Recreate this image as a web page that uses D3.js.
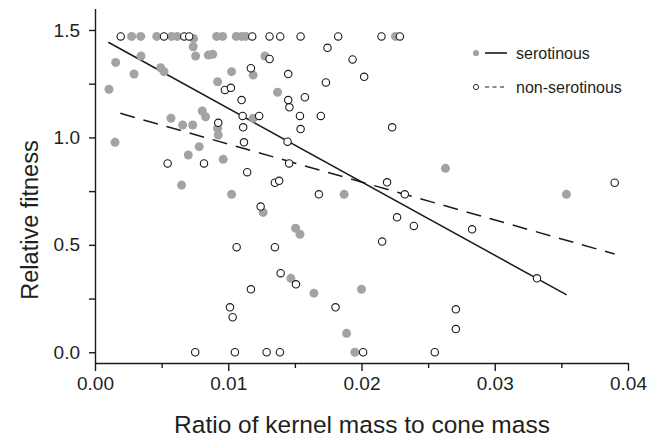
<!DOCTYPE html>
<html lang="en">
<head>
    <meta charset="UTF-8">
    <title>Relative fitness</title>
    <script src="https://cdn.jsdelivr.net/npm/d3@7"></script>
    <style>
        html, body {
            margin: 0;
            padding: 0;
            background: #fff;
            overflow: hidden;
        }
        text {
            font-family: "Liberation Sans", Arial, Helvetica, sans-serif;
            fill: #231f20;
        }
    </style>
</head>
<body>
</body>
<script>
    let width = 649;
    let height = 446;

    // serotinous (grey filled)
    let seroX = [0.00275, 0.00343, 0.00463, 0.00575, 0.00617, 0.0074, 0.00913, 0.00958, 0.0106, 0.0110, 0.0113, 0.02255,
        0.00155, 0.00105, 0.0015, 0.00345, 0.00293, 0.00493, 0.00518, 0.00737, 0.00755, 0.0085, 0.00883, 0.01025,
        0.0092, 0.01187, 0.01275, 0.0137, 0.01187, 0.00805, 0.0083, 0.0057, 0.00658, 0.00733, 0.0092, 0.00925,
        0.00782, 0.007, 0.00962, 0.0065, 0.01025, 0.01262, 0.0187, 0.0263, 0.01505, 0.01538, 0.0147, 0.01643,
        0.0200, 0.01888, 0.0195, 0.03538];
    let seroY = [1.47, 1.47, 1.47, 1.47, 1.47, 1.46, 1.47, 1.47, 1.47, 1.47, 1.47, 1.47,
        1.349, 1.224, 0.977, 1.379, 1.295, 1.324, 1.306, 1.422, 1.379, 1.383, 1.387, 1.306,
        1.259, 1.290, 1.379, 1.210, 1.089, 1.123, 1.096, 1.089, 1.058, 1.058, 1.042, 1.011,
        0.957, 0.918, 0.898, 0.778, 0.735, 0.651, 0.735, 0.856, 0.577, 0.549, 0.344, 0.275,
        0.293, 0.088, 0.0, 0.735];

    // non-serotinous (open)
    let nonSeroX = [0.00193, 0.00518, 0.0067, 0.00707, 0.0118, 0.0131, 0.0139, 0.01543, 0.01825, 0.0215, 0.02288,
        0.01745, 0.01933, 0.0131, 0.0117, 0.0145, 0.01733, 0.0202, 0.00975, 0.0102, 0.0110, 0.0145,
        0.01459, 0.01575, 0.01108, 0.01232, 0.01538, 0.01695, 0.01112, 0.01543, 0.00925, 0.0223, 0.01445,
        0.01118, 0.00545, 0.00818, 0.01142, 0.0135, 0.01382, 0.01457, 0.01243, 0.01063, 0.0135, 0.0168,
        0.02192, 0.02325, 0.02267, 0.02393, 0.0283, 0.02155, 0.01393, 0.01508, 0.0117, 0.01013, 0.01033,
        0.01805, 0.02708, 0.02708, 0.039, 0.03317, 0.00752, 0.0105, 0.01288, 0.01388, 0.02012, 0.0255];
    let nonSeroY = [1.47, 1.47, 1.47, 1.47, 1.47, 1.47, 1.47, 1.47, 1.47, 1.47, 1.47,
        1.417, 1.363, 1.365, 1.322, 1.295, 1.256, 1.282, 1.221, 1.231, 1.174, 1.174,
        1.140, 1.187, 1.100, 1.100, 1.100, 1.100, 1.047, 1.039, 1.068, 1.047, 0.980,
        0.977, 0.879, 0.879, 0.838, 0.789, 0.798, 0.879, 0.678, 0.489, 0.489, 0.735,
        0.791, 0.735, 0.628, 0.588, 0.572, 0.515, 0.368, 0.316, 0.293, 0.209, 0.163,
        0.209, 0.200, 0.108, 0.789, 0.344, 0.0, 0.0, 0.0, 0.0, 0.0, 0.0];

    // fitted lines, [x, y] end points
    let seroFit = [[0.001, 1.443], [0.0354, 0.267]];
    let nonSeroFit = [[0.0019, 1.112], [0.039, 0.457]];

    let xTicks = [0, 0.01, 0.02, 0.03, 0.04];
    let xMinorTicks = [0.005, 0.015, 0.025, 0.035];
    let yTicks = [0, 0.5, 1.0, 1.5];
    let yMinorTicks = [0.25, 0.75, 1.25];

    let legendLabels = ['serotinous', 'non-serotinous'];

    let grey = '#a3a3a3';
    let ink = '#1a1a1a';

    let x = d3.scaleLinear().domain([0, 0.04]).range([95, 628]);
    let y = d3.scaleLinear().domain([-0.05, 1.6]).range([363, 8.5]);

    let svg = d3.select('body').append('svg')
        .attr('width', width)
        .attr('height', height);

    // axes
    svg.append('g')
        .attr('transform', `translate(0, ${y(-0.05)})`)
        .call(d3.axisBottom(x).tickValues(xTicks).tickFormat(d3.format('.2f'))
            .tickSize(8).tickSizeOuter(0).tickPadding(6));
    svg.append('g')
        .attr('transform', `translate(0, ${y(-0.05)})`)
        .call(d3.axisBottom(x).tickValues(xMinorTicks).tickFormat('').tickSize(5).tickSizeOuter(0))
        .select('.domain').remove();

    svg.append('g')
        .attr('transform', `translate(${x(0)}, 0)`)
        .call(d3.axisLeft(y).tickValues(yTicks).tickFormat(d3.format('.1f'))
            .tickSize(6).tickSizeOuter(0).tickPadding(9));
    svg.append('g')
        .attr('transform', `translate(${x(0)}, 0)`)
        .call(d3.axisLeft(y).tickValues(yMinorTicks).tickFormat('').tickSize(6).tickSizeOuter(0))
        .select('.domain').remove();

    svg.selectAll('.domain, .tick line')
        .attr('stroke', ink)
        .attr('stroke-width', 1.4);
    svg.selectAll('.tick text')
        .attr('font-size', 19)
        .attr('fill', '#231f20')
        .style('font-family', '"Liberation Sans", Arial, sans-serif');

    // axis titles
    svg.append('text')
        .attr('x', 362)
        .attr('y', 433)
        .attr('text-anchor', 'middle')
        .attr('font-size', 24.5)
        .text('Ratio of kernel mass to cone mass');

    svg.append('text')
        .attr('transform', `translate(38, 220) rotate(-90)`)
        .attr('text-anchor', 'middle')
        .attr('font-size', 23.5)
        .text('Relative fitness');

    // fitted lines
    let line = d3.line().x(d => x(d[0])).y(d => y(d[1]));
    svg.append('path')
        .attr('d', line(seroFit))
        .attr('fill', 'none')
        .attr('stroke', ink)
        .attr('stroke-width', 1.5);
    svg.append('path')
        .attr('d', line(nonSeroFit))
        .attr('fill', 'none')
        .attr('stroke', ink)
        .attr('stroke-width', 1.5)
        .attr('stroke-dasharray', '15,9');

    // points
    svg.append('g').selectAll('circle')
        .data(d3.zip(seroX, seroY))
        .enter().append('circle')
        .attr('cx', d => x(d[0]))
        .attr('cy', d => y(d[1]))
        .attr('r', 4.5)
        .attr('fill', grey);

    svg.append('g').selectAll('circle')
        .data(d3.zip(nonSeroX, nonSeroY))
        .enter().append('circle')
        .attr('cx', d => x(d[0]))
        .attr('cy', d => y(d[1]))
        .attr('r', 3.7)
        .attr('fill', '#fff')
        .attr('stroke', ink)
        .attr('stroke-width', 1.1);

    // legend
    let legend = svg.append('g').attr('transform', 'translate(476, 53)');
    let rows = legend.selectAll('g')
        .data(legendLabels)
        .enter().append('g')
        .attr('transform', (d, i) => `translate(0, ${i * 34})`);

    rows.append('line')
        .attr('x1', 9).attr('x2', 31)
        .attr('stroke', ink)
        .attr('stroke-width', (d, i) => i ? 1 : 1.6)
        .attr('stroke-dasharray', (d, i) => i ? '4,3.5' : null);
    rows.append('circle')
        .attr('r', (d, i) => i ? 2.6 : 3.1)
        .attr('fill', (d, i) => i ? '#fff' : grey)
        .attr('stroke', (d, i) => i ? ink : 'none')
        .attr('stroke-width', 0.9);
    rows.append('text')
        .attr('x', 40)
        .attr('dy', '0.35em')
        .attr('font-size', 16)
        .text(d => d);
</script>
</html>
